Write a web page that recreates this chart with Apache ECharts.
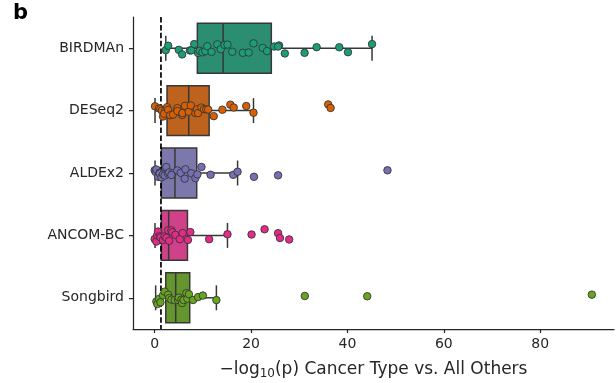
<!DOCTYPE html>
<html>
<head>
<meta charset="utf-8">
<script src="https://cdn.jsdelivr.net/npm/echarts@6/dist/echarts.min.js"></script>
<style>
  html, body { margin: 0; padding: 0; background: #fff; }
  #chart { width: 616px; height: 383px; }
</style>
</head>
<body>
<div id="chart"></div>
<script>
// Methods, top to bottom
const methods = ['BIRDMAn', 'DESeq2', 'ALDEx2', 'ANCOM-BC', 'Songbird'];

// -log10(p) per cancer type, one list per method
const birdmanVals = [2.3, 2.8, 5.0, 5.7, 7.3, 7.6, 8.2, 9.0, 9.35, 9.9, 10.5, 10.9, 11.8, 13.0, 13.7,
  14.5, 15.1, 16.1, 18.3, 19.5, 20.5, 22.4, 23.3, 24.8, 25.8, 25.6, 27.0, 31.1, 33.6, 38.3, 40.1, 45.1];
const deseq2Vals = [0.07, 0.9, 1.18, 1.5, 1.73, 2.2, 1.94, 2.56, 2.77, 3.2, 3.8, 4.7, 4.7, 5.7, 5.75,
  6.3, 7.06, 7.5, 8.45, 8.8, 9.0, 9.7, 10.2, 10.7, 11.1, 12.25, 14.05, 15.7, 16.4, 19.0, 20.5, 36.0, 36.5];
const aldex2Vals = [0.0, 0.2, 0.35, 0.7, 1.0, 1.04, 1.38, 1.73, 2.08, 2.4, 2.77, 3.0, 3.67, 3.46, 4.7,
  5.4, 6.23, 6.37, 7.6, 8.45, 8.86, 9.7, 11.6, 16.3, 17.2, 20.6, 25.6, 48.3];
const ancombcVals = [0.0, 0.35, 0.5, 0.7, 1.04, 1.2, 1.73, 2.08, 2.42, 2.8, 3.0, 3.46, 3.67, 4.3, 5.2,
  5.8, 6.9, 7.4, 11.3, 15.1, 20.1, 22.8, 25.6, 26.0, 27.9];
const songbirdVals = [0.35, 0.55, 0.9, 1.2, 1.73, 2.08, 2.77, 3.0, 3.46, 4.15, 4.85, 5.0, 5.54, 5.68,
  6.0, 6.57, 6.78, 7.1, 7.96, 9.0, 10.0, 12.8, 31.15, 44.1, 90.7];

// Box summaries: [whisker low, Q1, median, Q3, whisker high]
const birdmanBox = [2.3, 8.85, 14.2, 24.2, 45.1];
const deseq2Box = [0.07, 2.56, 7.06, 11.3, 20.5];
const aldex2Box = [0.07, 1.38, 4.2, 8.72, 17.2];
const ancombcBox = [0.07, 1.38, 2.9, 6.8, 15.1];
const songbirdBox = [0.2, 2.3, 4.36, 7.27, 12.8];

// Significance threshold: -log10(0.05)
const threshold = -Math.log10(0.05);

// Axis ticks
const xTicks = [0, 20, 40, 60, 80];

const pointColors = ['#1b9e77', '#d95f02', '#7570b3', '#e7298a', '#66a61e'];
const boxColors = ['#2b8e70', '#be631d', '#7c78ab', '#cf4189', '#65952f'];
const edgeGray = '#373737';
const inkColor = '#262626';
const font = 'DejaVu Sans';

const allVals = [birdmanVals, deseq2Vals, aldex2Vals, ancombcVals, songbirdVals];
const allBoxes = [birdmanBox, deseq2Box, aldex2Box, ancombcBox, songbirdBox];

// Deterministic strip-plot jitter within +/-0.1 of a category
let seed = 12345;
function jitter() {
  seed = (seed * 1103515245 + 12345) % 2147483648;
  return (seed / 2147483648) * 0.2 - 0.1;
}

const boxData = allBoxes.map((b, i) => [i].concat(b));

const series = [{
  type: 'custom',
  xAxisIndex: 0,
  yAxisIndex: 1,
  z: 2,
  encode: { x: [1, 2, 3, 4, 5], y: 0 },
  data: boxData,
  renderItem: function (params, api) {
    const i = api.value(0);
    const lo = api.value(1), q1 = api.value(2), med = api.value(3), q3 = api.value(4), hi = api.value(5);
    const p = (x, y) => api.coord([x, y]);
    const half = 0.4, cap = 0.2;
    const tl = p(q1, i - half), br = p(q3, i + half);
    const line = (x1, y1, x2, y2) => ({
      type: 'line',
      shape: { x1: x1, y1: y1, x2: x2, y2: y2 },
      style: { stroke: edgeGray, lineWidth: 1.5 }
    });
    const cy = p(0, i)[1];
    const capTop = p(0, i - cap)[1], capBot = p(0, i + cap)[1];
    const xLo = p(lo, i)[0], xQ1 = tl[0], xMed = p(med, i)[0], xQ3 = br[0], xHi = p(hi, i)[0];
    return {
      type: 'group',
      children: [
        line(xLo, cy, xQ1, cy),
        line(xQ3, cy, xHi, cy),
        line(xLo, capTop, xLo, capBot),
        line(xHi, capTop, xHi, capBot),
        {
          type: 'rect',
          shape: { x: tl[0], y: tl[1], width: br[0] - tl[0], height: br[1] - tl[1] },
          style: { fill: boxColors[i], stroke: edgeGray, lineWidth: 1.5 }
        },
        line(xMed, tl[1], xMed, br[1])
      ]
    };
  }
}, {
  type: 'line',
  xAxisIndex: 0,
  yAxisIndex: 1,
  z: 3,
  symbol: 'none',
  silent: true,
  data: [[threshold, -0.5], [threshold, 4.5]],
  lineStyle: { color: '#000', width: 1.7, type: [5.5, 2.4] }
}];

allVals.forEach((vals, i) => {
  series.push({
    type: 'scatter',
    xAxisIndex: 0,
    yAxisIndex: 1,
    z: 4,
    symbolSize: 7.5,
    data: vals.map(v => [v, i + jitter()]),
    itemStyle: { color: pointColors[i], borderColor: edgeGray, borderWidth: 0.9, opacity: 1 }
  });
});

const chart = echarts.init(document.getElementById('chart'), null, { renderer: 'canvas' });
chart.setOption({
  animation: false,
  backgroundColor: '#fff',
  grid: { left: 133, right: 2, top: 17, bottom: 54, containLabel: false, outerBoundsMode: 'none' },
  xAxis: {
    type: 'value',
    min: -4.5,
    max: 95.3,
    name: '−log{s|10}(p) Cancer Type vs. All Others',
    nameLocation: 'middle',
    nameGap: 30,
    nameTextStyle: {
      fontFamily: font, fontSize: 17, color: inkColor,
      rich: { s: { fontFamily: font, fontSize: 12, color: inkColor, padding: [9, 0, 0, 0] } }
    },
    axisLine: { show: true, onZero: false, lineStyle: { color: inkColor, width: 1.25 } },
    axisTick: { show: true, length: 4, customValues: xTicks, lineStyle: { color: inkColor, width: 1.25 } },
    axisLabel: { customValues: xTicks, fontFamily: font, fontSize: 14, color: inkColor, margin: 8 },
    splitLine: { show: false }
  },
  yAxis: [{
    type: 'category',
    data: methods,
    inverse: true,
    axisLine: { show: true, onZero: false, lineStyle: { color: inkColor, width: 1.25 } },
    axisTick: { show: true, length: 4, alignWithLabel: true, lineStyle: { color: inkColor, width: 1.25 } },
    axisLabel: { fontFamily: font, fontSize: 14, color: inkColor, margin: 9 },
    splitLine: { show: false }
  }, {
    type: 'value',
    min: -0.5,
    max: 4.5,
    inverse: true,
    show: false
  }],
  graphic: [{
    type: 'text',
    left: 13,
    top: 3,
    style: { text: 'b', fontFamily: font, fontWeight: 'bold', fontSize: 21, fill: '#000' }
  }],
  series: series
});
</script>
</body>
</html>
